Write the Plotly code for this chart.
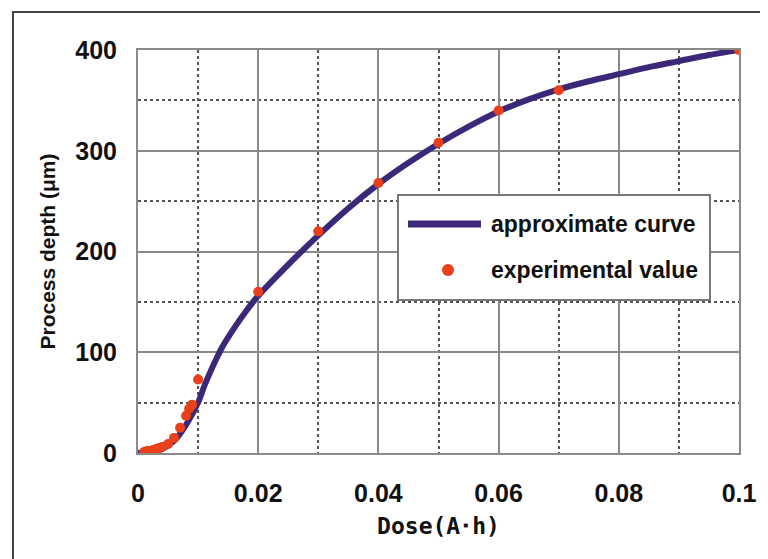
import plotly.graph_objects as go

# Experimental values
exp_dose = [0.001, 0.0015, 0.002, 0.0025, 0.003, 0.0035, 0.004, 0.005, 0.006,
            0.007, 0.008, 0.0085, 0.009, 0.01, 0.02, 0.03, 0.04, 0.05, 0.06,
            0.07, 0.1]
exp_depth = [1, 2, 2, 3, 4, 5, 6, 9, 15, 25, 37, 44, 48, 73, 160, 220, 268,
             308, 340, 360, 400]

# Approximate curve
curve_dose = [0, 0.002, 0.004, 0.006, 0.008, 0.01, 0.011, 0.012, 0.013, 0.014,
              0.016, 0.018, 0.02, 0.025, 0.03, 0.035, 0.04, 0.045, 0.05, 0.055,
              0.06, 0.065, 0.07, 0.075, 0.08, 0.085, 0.09, 0.095, 0.1]
curve_depth = [0, 1, 4, 12, 28, 50, 66, 80, 93, 105, 124, 141, 156, 187, 216,
               243, 267, 288, 307, 324, 339, 351, 361, 369, 376, 383, 389, 395, 400]

x_ticks = [0, 0.02, 0.04, 0.06, 0.08, 0.1]
x_ticklabels = ["0", "0.02", "0.04", "0.06", "0.08", "0.1"]
y_ticks = [0, 100, 200, 300, 400]
y_ticklabels = ["0", "100", "200", "300", "400"]

curve_color = "#3b2878"
point_color = "#e8401c"
tick_font = dict(family="Liberation Sans, Arial, sans-serif", size=25,
                 color="#111", weight="bold")

fig = go.Figure()
fig.add_trace(go.Scatter(x=curve_dose, y=curve_depth, mode="lines",
                         line=dict(color=curve_color, width=6, shape="spline", smoothing=0.8),
                         name="approximate curve", showlegend=False))
fig.add_trace(go.Scatter(x=exp_dose, y=exp_depth, mode="markers",
                         marker=dict(color=point_color, size=10),
                         name="experimental value", showlegend=False))

# page body has an 8px offset; margins compensate so plot area spans 138..739 x 50..453
L, T = 130, 42
W, H = 768, 559
fig.update_layout(
    width=W, height=H,
    margin=dict(l=L, r=W - L - 601, t=T, b=H - T - 403),
    paper_bgcolor="white", plot_bgcolor="white",
    xaxis=dict(range=[0, 0.1], tickvals=x_ticks, ticktext=x_ticklabels,
               tickfont=tick_font, showgrid=True, gridcolor="#8a8a8a", gridwidth=2,
               showline=True, linecolor="#8a8a8a", linewidth=2, mirror=True,
               ticks="", zeroline=False, ticklabelstandoff=17,
               minor=dict(dtick=0.01, showgrid=True, gridcolor="#555", griddash="dot", gridwidth=1.5),
               title=dict(text="<b>Dose(A･h)</b>", standoff=12,
                          font=dict(family="DejaVu Sans Mono", size=23, color="#111"))),
    yaxis=dict(range=[0, 400], tickvals=y_ticks, ticktext=y_ticklabels,
               tickfont=tick_font, showgrid=True, gridcolor="#8a8a8a", gridwidth=2,
               showline=True, linecolor="#8a8a8a", linewidth=2, mirror=True,
               ticks="", zeroline=False, ticklabelstandoff=14,
               minor=dict(dtick=50, showgrid=True, gridcolor="#555", griddash="dot", gridwidth=1.5),
               title=dict(text="<b>Process depth (μm)</b>", standoff=14,
                          font=dict(family="Liberation Sans, Arial, sans-serif", size=21, color="#111"))),
)

# outer frame
fig.add_shape(type="rect", xref="paper", yref="paper",
              x0=-0.208, x1=1.2, y0=-0.5, y1=1.094,
              line=dict(color="#444", width=2), layer="below")

# custom legend
def px(v):
    return (v - 138) / 601

def py(v):
    return (453 - v) / 403

fig.add_shape(type="rect", xref="paper", yref="paper", x0=px(398), x1=px(710),
              y0=py(300), y1=py(195),
              line=dict(color="#777", width=2), fillcolor="white", layer="above")
fig.add_shape(type="line", xref="paper", yref="paper", x0=px(408), x1=px(481),
              y0=py(224), y1=py(224),
              line=dict(color=curve_color, width=7), layer="above")
fig.add_shape(type="circle", xref="paper", yref="paper", x0=px(442), x1=px(454),
              y0=py(276), y1=py(264),
              line=dict(color=point_color, width=0), fillcolor=point_color, layer="above")
for txt, yy in [("approximate curve", 224), ("experimental value", 270)]:
    fig.add_annotation(xref="paper", yref="paper", x=px(489), y=py(yy),
                       text="<b>" + txt + "</b>", showarrow=False,
                       xanchor="left", yanchor="middle",
                       font=dict(family="Liberation Sans, Arial, sans-serif", size=23, color="#111"))

fig.write_html("out.html")
